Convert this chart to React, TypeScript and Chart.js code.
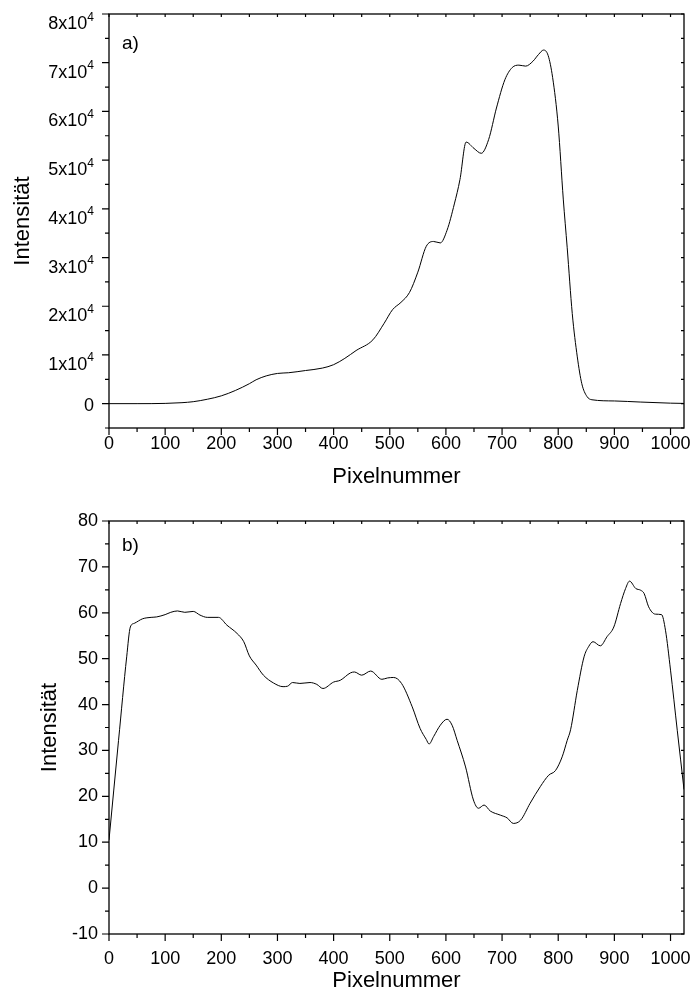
import React, { useEffect, useRef } from 'react';
import { Chart, registerables } from 'chart.js';

Chart.register(...registerables);

const FONT = '"Liberation Sans", Arial, Helvetica, sans-serif';

// ---------- shared x axis ----------
const X_MIN = 0;
const X_MAX = 1024;
const X_TICKS = [0, 100, 200, 300, 400, 500, 600, 700, 800, 900, 1000];
const X_MINOR_STEP = 50;
const X_TITLE = 'Pixelnummer';
const Y_TITLE = 'Intensität';

// ---------- chart a ----------
const A_LABEL = 'a)';
const A_Y_MIN = -5000;
const A_Y_MAX = 80000;
const A_Y_TICKS = [0, 10000, 20000, 30000, 40000, 50000, 60000, 70000, 80000];
const A_Y_TICK_BASE = ['0', '1x10', '2x10', '3x10', '4x10', '5x10', '6x10', '7x10', '8x10'];
const A_Y_TICK_EXP = ['', '4', '4', '4', '4', '4', '4', '4', '4'];
const A_Y_MINOR_STEP = 5000;

const A_X = [
  0, 50, 100, 130, 150, 175, 200, 225, 250, 262, 280, 300, 320, 350, 380, 400, 420, 440, 470, 490,
  505, 520, 535, 550, 565, 578, 590, 602, 615, 625, 636, 650, 663, 676, 690, 705, 718, 730, 742, 755,
  765, 774, 782, 790, 800, 809, 816, 825, 834, 842, 851, 860, 900, 946, 1000, 1023,
];
const A_Y = [
  0, 0, 50, 200, 400, 900, 1600, 2700, 4100, 4900, 5700, 6200, 6350, 6800, 7300, 8000, 9300, 10900, 13100, 16500,
  19300, 20800, 22800, 27000, 32300, 33300, 33000, 35600, 41000, 46000, 53700, 52400, 51400, 54200, 60700, 66500, 69000, 69500, 69300, 70300,
  71700, 72600, 71500, 67000, 57000, 42000, 32000, 18500, 9600, 4100, 1500, 800, 550, 330, 100, 50,
];

// ---------- chart b ----------
const B_LABEL = 'b)';
const B_Y_MIN = -10;
const B_Y_MAX = 80;
const B_Y_TICKS = [-10, 0, 10, 20, 30, 40, 50, 60, 70, 80];
const B_Y_MINOR_STEP = 5;

const B_X = [
  0, 17, 31.5, 38, 45, 60, 75, 85, 100, 110, 122, 135, 150, 162, 175, 195, 210, 228, 240, 250,
  262, 275, 293, 310, 318, 327, 340, 358, 370, 381, 400, 412, 430, 437, 450, 466, 486, 496, 507, 521,
  540, 554, 565, 570, 578, 590, 602, 611, 620, 635, 649, 658, 668, 679, 697, 709, 720, 733, 750, 768,
  783, 795, 807, 816, 822, 834, 846, 854, 862, 875, 887, 899, 911, 920, 927, 938, 947, 953, 961, 973,
  984, 991, 1000, 1012, 1024,
];
const B_Y = [
  10.5, 32.2, 50.4, 56.9, 57.7, 58.7, 59.0, 59.1, 59.6, 60.1, 60.4, 60.1, 60.3, 59.5, 59.0, 59.0, 57.3, 55.5, 53.7, 50.6,
  48.6, 46.4, 44.7, 43.9, 44.0, 44.8, 44.6, 44.8, 44.4, 43.5, 44.9, 45.3, 46.9, 47.1, 46.4, 47.3, 45.5, 45.8, 45.9, 44.6,
  39.5, 34.8, 32.4, 31.4, 33.0, 35.5, 36.8, 35.5, 32.2, 26.4, 19.2, 17.4, 18.1, 16.8, 15.9, 15.3, 14.1, 14.8, 18.5, 22.1,
  24.6, 25.6, 28.6, 32.2, 34.5, 43.1, 50.4, 52.6, 53.7, 52.8, 54.8, 56.9, 62.0, 65.3, 66.9, 65.3, 64.9, 64.2, 61.3, 59.7,
  59.6, 56.2, 47.5, 34.4, 21.5,
];

function toPoints(xs: number[], ys: number[]) {
  return xs.map((x, i) => ({ x, y: ys[i] }));
}

// frame + ticks on four sides, plus panel label and optional custom y labels
const framePlugin = {
  id: 'frameTicks',
  afterDraw(chart: any, _args: any, opts: any) {
    const { ctx, chartArea: ca, scales } = chart;
    const xs = scales.x;
    const ys = scales.y;
    ctx.save();
    ctx.strokeStyle = '#000';
    ctx.lineWidth = 1.3;
    ctx.strokeRect(ca.left, ca.top, ca.right - ca.left, ca.bottom - ca.top);

    ctx.lineWidth = 1.2;
    ctx.beginPath();
    for (let v = X_MIN; v <= X_MAX; v += X_MINOR_STEP) {
      const px = xs.getPixelForValue(v);
      const major = X_TICKS.includes(v);
      ctx.moveTo(px, ca.bottom);
      ctx.lineTo(px, ca.bottom + (major ? 7 : 4));
      ctx.moveTo(px, ca.top);
      ctx.lineTo(px, ca.top + 3);
    }
    const yMin = opts.yMin;
    const yMax = opts.yMax;
    for (let v = yMin; v <= yMax + 1e-9; v += opts.yMinor) {
      const py = ys.getPixelForValue(v);
      const major = opts.yTicks.includes(v);
      ctx.moveTo(ca.left, py);
      ctx.lineTo(ca.left - (major ? 7 : 4), py);
      ctx.moveTo(ca.right, py);
      ctx.lineTo(ca.right - 3, py);
    }
    ctx.stroke();

    // panel label
    ctx.fillStyle = '#000';
    ctx.font = `19px ${FONT}`;
    ctx.textAlign = 'left';
    ctx.textBaseline = 'alphabetic';
    ctx.fillText(opts.label, ca.left + 13, ca.top + opts.labelDy);

    // custom y tick labels with superscript exponent
    if (opts.base) {
      const rightEdge = ca.left - 15;
      opts.yTicks.forEach((v: number, i: number) => {
        const py = ys.getPixelForValue(v);
        const base = opts.base[i];
        const exp = opts.exp[i];
        ctx.font = `18px ${FONT}`;
        const wb = ctx.measureText(base).width;
        ctx.font = `12px ${FONT}`;
        const we = exp ? ctx.measureText(exp).width : 0;
        const startX = rightEdge - wb - we;
        ctx.textAlign = 'left';
        if (exp) {
          ctx.font = `18px ${FONT}`;
          ctx.textBaseline = 'alphabetic';
          ctx.fillText(base, startX, py + 15);
          ctx.font = `12px ${FONT}`;
          ctx.fillText(exp, startX + wb, py + 6.5);
        } else {
          ctx.font = `18px ${FONT}`;
          ctx.textBaseline = 'middle';
          ctx.fillText(base, startX, py + 2);
        }
      });
    }
    ctx.restore();
  },
};

function xScale(height: number, tickPad: number, titlePad: number) {
  return {
    type: 'linear',
    position: 'bottom',
    min: X_MIN,
    max: X_MAX,
    grid: { display: false, drawTicks: false, tickLength: 0 },
    border: { display: false },
    afterBuildTicks: (scale: any) => {
      scale.ticks = X_TICKS.map((value) => ({ value }));
    },
    ticks: {
      color: '#000',
      font: { family: FONT, size: 18 },
      padding: tickPad,
      maxRotation: 0,
      autoSkip: false,
      callback: (v: any) => String(v),
    },
    title: {
      display: true,
      text: X_TITLE,
      color: '#000',
      font: { family: FONT, size: 22, lineHeight: 1 },
      padding: { top: 0, bottom: titlePad },
    },
    afterFit: (scale: any) => {
      scale.height = height;
      scale.paddingLeft = 0;
      scale.paddingRight = 0;
      scale.paddingTop = 0;
      scale.paddingBottom = 0;
    },
  };
}

function makeConfig(which: 'a' | 'b'): any {
  const isA = which === 'a';
  const pts = isA ? toPoints(A_X, A_Y) : toPoints(B_X, B_Y);
  const yTicks = isA ? A_Y_TICKS : B_Y_TICKS;
  return {
    type: 'line',
    data: {
      datasets: [
        {
          data: pts,
          borderColor: '#000',
          borderWidth: 1,
          pointRadius: 0,
          fill: false,
          cubicInterpolationMode: 'monotone',
        },
      ],
    },
    options: {
      responsive: false,
      animation: false,
      devicePixelRatio: 1,
      layout: { padding: { top: isA ? 14 : 31, right: 9, left: 0, bottom: 0 } },
      plugins: {
        legend: { display: false },
        tooltip: { enabled: false },
        frameTicks: isA
          ? {
              yMin: A_Y_MIN,
              yMax: A_Y_MAX,
              yMinor: A_Y_MINOR_STEP,
              yTicks: A_Y_TICKS,
              base: A_Y_TICK_BASE,
              exp: A_Y_TICK_EXP,
              label: A_LABEL,
              labelDy: 35,
            }
          : {
              yMin: B_Y_MIN,
              yMax: B_Y_MAX,
              yMinor: B_Y_MINOR_STEP,
              yTicks: B_Y_TICKS,
              base: null,
              exp: null,
              label: B_LABEL,
              labelDy: 30,
            },
      },
      scales: {
        x: isA ? xScale(62, 5, 2.5) : xScale(58, 14, 0.5),
        y: {
          type: 'linear',
          position: 'left',
          min: isA ? A_Y_MIN : B_Y_MIN,
          max: isA ? A_Y_MAX : B_Y_MAX,
          grid: { display: false, drawTicks: false, tickLength: 0 },
          border: { display: false },
          afterBuildTicks: (scale: any) => {
            scale.ticks = yTicks.map((value) => ({ value }));
          },
          ticks: {
            display: !isA,
            color: '#000',
            font: { family: FONT, size: 18 },
            padding: 11,
          },
          title: {
            display: true,
            text: Y_TITLE,
            color: '#000',
            font: { family: FONT, size: 22, lineHeight: 1 },
            padding: { top: isA ? 11.5 : 38.5, bottom: 0 },
          },
          afterFit: (scale: any) => {
            scale.width = 109;
            scale.paddingLeft = 0;
            scale.paddingRight = 0;
            scale.paddingTop = 0;
            scale.paddingBottom = 0;
          },
        },
      },
    },
    plugins: [framePlugin],
  };
}

function Panel({ which, top, height }: { which: 'a' | 'b'; top: number; height: number }) {
  const ref = useRef<HTMLCanvasElement | null>(null);
  useEffect(() => {
    if (!ref.current) return;
    const chart = new Chart(ref.current, makeConfig(which));
    return () => chart.destroy();
  }, [which]);
  return (
    <canvas
      ref={ref}
      width={693}
      height={height}
      style={{ position: 'absolute', left: 0, top, width: 693, height }}
    />
  );
}

export default function App() {
  useEffect(() => {
    document.body.style.margin = '0';
    document.body.style.overflow = 'hidden';
  }, []);
  return (
    <div
      style={{
        position: 'absolute',
        left: 0,
        top: 0,
        width: 693,
        height: 992,
        background: '#fff',
        overflow: 'hidden',
      }}
    >
      <Panel which="a" top={0} height={490} />
      <Panel which="b" top={490} height={502} />
    </div>
  );
}
